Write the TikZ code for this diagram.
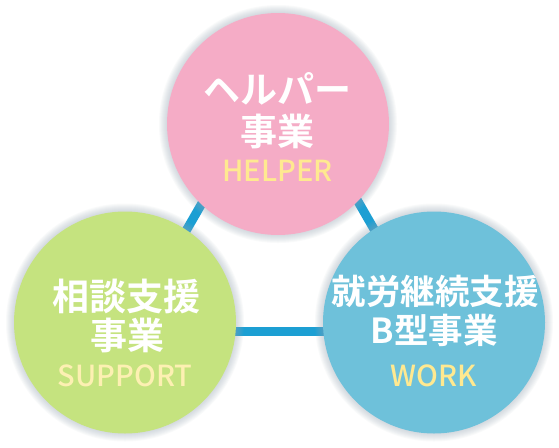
\documentclass[tikz,border=0pt]{standalone}
\usepackage{fontspec}
\newfontfamily\jp{Noto Sans CJK JP}[BoldFont={* Bold}]
\newfontfamily\jpm{Noto Sans CJK JP Medium}
\definecolor{pinkc}{HTML}{F5ACC6}
\definecolor{greenc}{HTML}{C5E37F}
\definecolor{bluec}{HTML}{6EC1DA}
\definecolor{linec}{HTML}{1C9FD3}
\definecolor{yel}{HTML}{FFE990}
\definecolor{yelg}{HTML}{FDF0B2}
\definecolor{shad}{HTML}{9AAAB8}
\tikzset{
  bub/.style={circle, minimum size=222pt, inner sep=0pt, draw=none},
  jtext/.style={anchor=base, text=white, font=\jp\bfseries\fontsize{37}{40}\selectfont, inner sep=0pt},
  jsmall/.style={anchor=base, text=white, font=\jp\bfseries\fontsize{34.5}{40}\selectfont, inner sep=0pt},
  etext/.style={anchor=base, font=\jpm\fontsize{29}{32}\selectfont, inner sep=0pt},
  link/.style={draw=linec, line width=9pt},
}
\newcommand{\halo}[2]{%
  \foreach \k in {8,7,...,1}{\fill[shad, opacity=0.06] (#1) circle[radius=#2+\k];}}
\begin{document}
\begin{tikzpicture}[x=1pt,y=-1pt]
\useasboundingbox (0,0) rectangle (559,447);
\fill[white] (0,0) rectangle (559,447);
% triangle vertices behind the circles
\coordinate (tl) at (128,331.5);
\coordinate (tt) at (280.5,67);
\coordinate (tr) at (433,331.5);
\draw[link] (tl) -- (tt);
\draw[link] (tt) -- (tr);
\draw[link] (tl) -- (tr);
% halos
\halo{278,124}{111}
\halo{125,322.5}{111}
\halo{434,322.5}{111}
% circles
\node[bub, fill=pinkc] (pink) at (278,124) {};
\node[bub, fill=greenc] (green) at (125,322.5) {};
\node[bub, fill=bluec] (blue) at (434,322.5) {};
% pink texts
\node[jtext] (p1) at (277,103) {ヘルパー};
\node[jtext] (p2) at (277.5,145.5) {事業};
\node[etext, text=yel] (p3) at (277.5,181) {HELPER};
% green texts
\node[jtext] (g1) at (126.5,310.5) {相談支援};
\node[jtext] (g2) at (127.5,349) {事業};
\node[etext, text=yelg] (g3) at (125,386) {SUPPORT};
% blue texts
\node[jsmall] (b1) at (435,304) {就労継続支援};
\node[jsmall] (b2) at (434,343.5) {B型事業};
\node[etext, text=yel] (b3) at (433.5,386) {WORK};
\end{tikzpicture}
\end{document}
